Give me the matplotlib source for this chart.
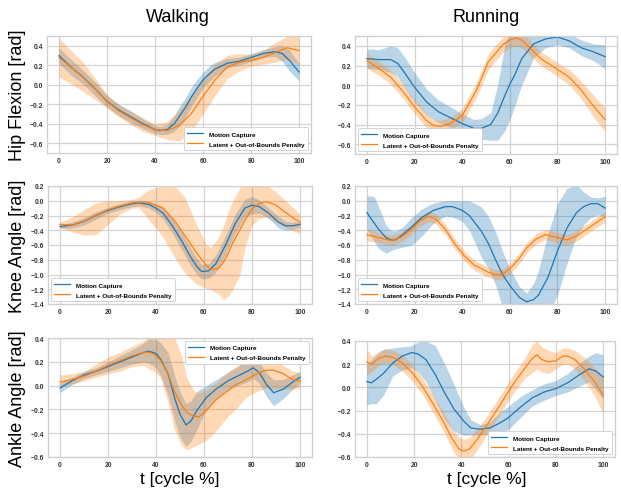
import matplotlib
matplotlib.use('Agg')
import matplotlib.pyplot as plt
import numpy as np

# ---------------- data ----------------
X_TICKS = [0, 20, 40, 60, 80, 100]
COL_TITLES = ['Walking', 'Running']
ROW_LABELS = ['Hip Flexion [rad]', 'Knee Angle [rad]', 'Ankle Angle [rad]']
X_LABEL = 't [cycle %]'
LABEL_MC = 'Motion Capture'
LABEL_LAT = 'Latent + Out-of-Bounds Penalty'

# Hip flexion, walking
HW_BX = [0, 5, 10, 15, 20, 25, 30, 35, 40, 42, 45, 48, 50, 53, 55, 58, 60, 63, 65, 70, 75, 80, 85, 90, 93, 96, 100]
HW_BY = [0.30, 0.18, 0.08, -0.04, -0.17, -0.26, -0.33, -0.40, -0.46, -0.47, -0.46, -0.40, -0.33, -0.22, -0.13, -0.02, 0.05, 0.12, 0.16, 0.22, 0.24, 0.28, 0.32, 0.34, 0.32, 0.25, 0.13]
HW_BSD = [0.08, 0.08, 0.07, 0.07, 0.06, 0.06, 0.06, 0.05, 0.04, 0.04, 0.05, 0.08, 0.10, 0.10, 0.10, 0.09, 0.08, 0.08, 0.07, 0.05, 0.04, 0.04, 0.04, 0.05, 0.08, 0.11, 0.09]
HW_OX = [0, 5, 10, 15, 20, 25, 30, 35, 40, 45, 50, 55, 60, 65, 70, 75, 80, 85, 90, 95, 100]
HW_OY = [0.28, 0.18, 0.08, -0.04, -0.17, -0.27, -0.34, -0.41, -0.46, -0.47, -0.42, -0.30, -0.12, 0.05, 0.18, 0.23, 0.25, 0.28, 0.33, 0.38, 0.35]
HW_OSD = [0.20, 0.17, 0.15, 0.11, 0.07, 0.06, 0.07, 0.07, 0.06, 0.09, 0.16, 0.18, 0.18, 0.16, 0.12, 0.09, 0.06, 0.07, 0.10, 0.12, 0.14]

# Hip flexion, running
HR_BX = [0, 5, 10, 13, 16, 20, 25, 30, 35, 40, 45, 48, 52, 55, 58, 60, 62, 65, 70, 75, 80, 85, 90, 95, 100]
HR_BY = [0.27, 0.26, 0.26, 0.22, 0.12, -0.02, -0.17, -0.27, -0.33, -0.39, -0.44, -0.44, -0.40, -0.28, -0.10, 0.01, 0.10, 0.27, 0.42, 0.47, 0.49, 0.45, 0.38, 0.34, 0.29]
HR_BLO = [0.17, 0.16, 0.13, 0.08, -0.03, -0.17, -0.30, -0.38, -0.43, -0.49, -0.53, -0.55, -0.56, -0.56, -0.46, -0.35, -0.22, 0.00, 0.28, 0.38, 0.41, 0.38, 0.30, 0.25, 0.17]
HR_BHI = [0.37, 0.36, 0.40, 0.38, 0.28, 0.13, -0.04, -0.15, -0.22, -0.29, -0.35, -0.34, -0.28, 0.02, 0.42, 0.55, 0.55, 0.55, 0.55, 0.55, 0.55, 0.52, 0.46, 0.42, 0.41]
HR_OX = [0, 5, 10, 15, 20, 25, 28, 31, 35, 40, 46, 51, 57, 60, 62.5, 65, 68, 73, 80, 85, 90, 95, 100]
HR_OY = [0.25, 0.17, 0.08, -0.06, -0.22, -0.36, -0.41, -0.42, -0.39, -0.31, -0.05, 0.24, 0.41, 0.46, 0.48, 0.46, 0.39, 0.27, 0.16, 0.08, -0.05, -0.21, -0.35]
HR_OSD = [0.08, 0.07, 0.07, 0.07, 0.07, 0.07, 0.06, 0.06, 0.06, 0.07, 0.08, 0.08, 0.08, 0.08, 0.08, 0.08, 0.08, 0.07, 0.07, 0.08, 0.09, 0.11, 0.12]

# Knee angle, walking
KW_BX = [0, 5, 10, 15, 20, 25, 30, 33, 37, 40, 43, 47, 51, 54, 57, 59, 62, 65, 69, 73, 77, 80, 83, 87, 91, 94, 97, 100]
KW_BY = [-0.35, -0.33, -0.28, -0.20, -0.13, -0.08, -0.04, -0.03, -0.05, -0.10, -0.17, -0.35, -0.56, -0.74, -0.89, -0.96, -0.95, -0.85, -0.60, -0.31, -0.10, -0.06, -0.08, -0.17, -0.29, -0.34, -0.34, -0.32]
KW_BSD = [0.03, 0.04, 0.05, 0.05, 0.04, 0.04, 0.04, 0.04, 0.05, 0.06, 0.08, 0.10, 0.12, 0.12, 0.11, 0.10, 0.10, 0.12, 0.13, 0.13, 0.12, 0.12, 0.09, 0.07, 0.08, 0.06, 0.05, 0.04]
KW_OX = [0, 5, 10, 15, 20, 25, 30, 33, 37, 40, 43, 48, 52, 57, 61, 63, 66, 68, 70, 72, 75, 77, 80, 83, 86, 90, 94, 98, 100]
KW_OY = [-0.32, -0.33, -0.28, -0.20, -0.12, -0.07, -0.03, -0.02, -0.03, -0.06, -0.10, -0.28, -0.47, -0.71, -0.88, -0.93, -0.92, -0.84, -0.72, -0.57, -0.39, -0.27, -0.11, -0.04, -0.01, -0.06, -0.16, -0.25, -0.29]
KW_OLO = [-0.36, -0.42, -0.47, -0.46, -0.32, -0.18, -0.10, -0.10, -0.26, -0.37, -0.50, -0.78, -0.98, -1.13, -1.19, -1.21, -1.26, -1.34, -1.30, -1.20, -1.00, -0.65, -0.33, -0.24, -0.22, -0.29, -0.36, -0.42, -0.44]
KW_OHI = [-0.29, -0.22, -0.12, -0.03, 0.00, 0.00, 0.02, 0.05, 0.15, 0.18, 0.19, 0.19, 0.05, -0.33, -0.60, -0.63, -0.50, -0.35, -0.15, 0.00, 0.18, 0.25, 0.25, 0.25, 0.22, 0.12, 0.00, -0.12, -0.19]

# Knee angle, running
KR_BX = [0, 3, 5, 8, 10, 12, 15, 19, 23, 28, 33, 36, 40, 43, 48, 51, 54, 57, 60, 64, 67, 70, 72, 76, 80, 84, 88, 91, 94, 97, 100]
KR_BY = [-0.16, -0.30, -0.39, -0.50, -0.53, -0.53, -0.46, -0.35, -0.23, -0.13, -0.08, -0.08, -0.13, -0.20, -0.41, -0.58, -0.80, -1.00, -1.15, -1.31, -1.37, -1.34, -1.28, -1.04, -0.68, -0.37, -0.16, -0.08, -0.04, -0.04, -0.10]
KR_BLO = [-0.38, -0.55, -0.65, -0.71, -0.68, -0.65, -0.63, -0.60, -0.48, -0.30, -0.21, -0.22, -0.28, -0.40, -0.76, -0.92, -1.14, -1.45, -1.55, -1.55, -1.55, -1.55, -1.60, -1.55, -1.28, -0.85, -0.48, -0.33, -0.23, -0.19, -0.21]
KR_BHI = [0.07, 0.06, -0.08, -0.33, -0.40, -0.41, -0.36, -0.22, -0.11, -0.03, 0.00, 0.00, 0.00, 0.00, -0.08, -0.21, -0.42, -0.69, -0.92, -1.16, -1.25, -1.12, -0.95, -0.45, -0.04, 0.17, 0.22, 0.12, 0.05, 0.04, 0.06]
KR_OX = [0, 5, 10, 14, 18, 22, 26, 29, 33, 37, 41, 45, 48, 51, 54, 57, 61, 64, 67, 71, 75, 80, 84, 88, 93, 97, 100]
KR_OY = [-0.46, -0.50, -0.54, -0.50, -0.41, -0.28, -0.21, -0.25, -0.39, -0.59, -0.75, -0.87, -0.92, -0.97, -1.00, -1.00, -0.89, -0.78, -0.64, -0.52, -0.46, -0.50, -0.53, -0.48, -0.37, -0.28, -0.22]
KR_OSD = [0.08, 0.07, 0.07, 0.07, 0.07, 0.07, 0.07, 0.07, 0.07, 0.07, 0.07, 0.07, 0.07, 0.07, 0.07, 0.07, 0.07, 0.07, 0.07, 0.07, 0.07, 0.07, 0.07, 0.07, 0.07, 0.07, 0.07]

# Ankle angle, walking
AW_BX = [0, 5, 10, 15, 20, 25, 30, 35, 37, 40, 42, 45, 48, 50, 52.5, 54.5, 57, 61, 65, 70, 74, 78, 80.5, 83, 86, 89, 93, 97, 100]
AW_BY = [-0.02, 0.04, 0.09, 0.12, 0.16, 0.20, 0.24, 0.28, 0.29, 0.27, 0.22, 0.10, -0.12, -0.24, -0.33, -0.30, -0.21, -0.10, -0.03, 0.04, 0.08, 0.12, 0.15, 0.11, 0.01, -0.06, -0.03, 0.03, 0.07]
AW_BSD = [0.04, 0.03, 0.03, 0.03, 0.04, 0.05, 0.06, 0.08, 0.10, 0.12, 0.14, 0.18, 0.19, 0.19, 0.18, 0.17, 0.16, 0.10, 0.08, 0.07, 0.08, 0.09, 0.09, 0.09, 0.10, 0.11, 0.08, 0.06, 0.05]
AW_OX = [0, 5, 10, 15, 20, 25, 30, 35, 37, 39.5, 42, 45, 47.5, 50.5, 53, 56, 58, 61, 65, 69.5, 73.5, 77.5, 82, 86, 89, 93, 97, 100]
AW_OY = [0.03, 0.05, 0.08, 0.12, 0.17, 0.21, 0.25, 0.28, 0.28, 0.26, 0.21, 0.10, -0.04, -0.16, -0.23, -0.26, -0.26, -0.21, -0.12, -0.05, 0.01, 0.05, 0.10, 0.13, 0.13, 0.10, 0.05, 0.04]
AW_OLO = [0.00, 0.01, 0.04, 0.07, 0.10, 0.12, 0.16, 0.17, 0.14, 0.12, 0.06, -0.14, -0.36, -0.50, -0.54, -0.51, -0.49, -0.46, -0.38, -0.27, -0.19, -0.10, -0.05, -0.02, -0.03, -0.03, -0.03, -0.02]
AW_OHI = [0.09, 0.10, 0.12, 0.18, 0.24, 0.28, 0.33, 0.38, 0.41, 0.42, 0.43, 0.44, 0.42, 0.26, 0.06, -0.05, -0.06, -0.04, 0.02, 0.11, 0.16, 0.21, 0.26, 0.25, 0.22, 0.17, 0.12, 0.11]

# Ankle angle, running
AR_BX = [0, 2, 4, 7, 11, 15, 19, 21.5, 25, 29, 33, 37, 41, 44, 48, 52, 56, 60, 65, 70, 75, 80, 85, 90, 94, 97, 100]
AR_BY = [0.05, 0.04, 0.07, 0.12, 0.21, 0.27, 0.30, 0.29, 0.24, 0.11, -0.05, -0.19, -0.29, -0.35, -0.36, -0.35, -0.31, -0.26, -0.17, -0.09, -0.04, -0.01, 0.04, 0.11, 0.16, 0.14, 0.09]
AR_BLO = [-0.15, -0.14, -0.14, -0.07, 0.10, 0.15, 0.17, 0.14, 0.05, -0.11, -0.28, -0.38, -0.41, -0.41, -0.41, -0.40, -0.40, -0.36, -0.26, -0.16, -0.11, -0.07, -0.04, 0.01, 0.05, -0.02, -0.10]
AR_BHI = [0.20, 0.24, 0.28, 0.33, 0.34, 0.35, 0.36, 0.39, 0.40, 0.36, 0.20, 0.02, -0.17, -0.28, -0.32, -0.30, -0.22, -0.16, -0.08, -0.02, 0.03, 0.06, 0.12, 0.21, 0.27, 0.30, 0.28]
AR_OX = [0, 2, 5, 8, 11, 15, 19.5, 23.5, 28, 32, 36, 39, 41, 43.5, 47, 51, 57, 62, 67, 70, 72, 74, 77, 80, 83, 85, 88, 92, 96, 100]
AR_OY = [0.22, 0.20, 0.25, 0.27, 0.26, 0.21, 0.12, 0.01, -0.14, -0.28, -0.44, -0.53, -0.55, -0.53, -0.44, -0.32, -0.13, 0.03, 0.17, 0.25, 0.28, 0.24, 0.22, 0.23, 0.27, 0.27, 0.24, 0.16, 0.06, -0.07]
AR_OSD = [0.11, 0.07, 0.06, 0.06, 0.06, 0.07, 0.07, 0.07, 0.08, 0.08, 0.09, 0.10, 0.10, 0.10, 0.09, 0.08, 0.08, 0.08, 0.09, 0.12, 0.12, 0.11, 0.10, 0.07, 0.07, 0.07, 0.08, 0.10, 0.12, 0.15]

# ---------------- style ----------------
BLUE = '#1f77b4'
ORANGE = '#ff7f0e'
BIG_FONT = ['Liberation Sans Narrow', 'Liberation Sans', 'DejaVu Sans']
SMALL_FONT = ['Liberation Sans', 'DejaVu Sans']
W, H = 621, 489

fig = plt.figure(figsize=(W / 100, H / 100), dpi=100)
fig.patch.set_facecolor('white')


def add_ax(l, t, r, b):
    return fig.add_axes([l / W, 1 - b / H, (r - l) / W, (b - t) / H])


def band(y, sd=None, lo=None, hi=None):
    y = np.asarray(y, float)
    if sd is not None:
        sd = np.asarray(sd, float)
        return y - sd, y + sd
    return np.asarray(lo, float), np.asarray(hi, float)


def style(ax, ylim, yticks):
    ax.set_facecolor('white')
    ax.set_xlim(-5, 105)
    ax.set_ylim(*ylim)
    ax.set_xticks(X_TICKS)
    ax.set_yticks(yticks)
    ax.set_yticklabels([f'{v:.1f}'.replace('-', '\u2212') for v in yticks])
    ax.grid(True, color='#d4d4d4', lw=0.9)
    ax.set_axisbelow(True)
    for s in ax.spines.values():
        s.set_color('#cfcfcf')
        s.set_linewidth(0.9)
    ax.tick_params(length=0, pad=3, labelsize=4.9, labelcolor='#333333')
    for lab in ax.get_xticklabels() + ax.get_yticklabels():
        lab.set_fontweight('bold')
        lab.set_family(SMALL_FONT)


panels = [
    # (rect, blue series, orange series, ylim, yticks, legend loc)
    ((47, 37, 311, 154), (HW_BX, HW_BY, band(HW_BY, sd=HW_BSD)), (HW_OX, HW_OY, band(HW_OY, sd=HW_OSD)),
     (-0.7, 0.5), [-0.6, -0.4, -0.2, 0.0, 0.2, 0.4], 'lower right'),
    ((355, 37, 617, 155), (HR_BX, HR_BY, band(HR_BY, lo=HR_BLO, hi=HR_BHI)), (HR_OX, HR_OY, band(HR_OY, sd=HR_OSD)),
     (-0.7, 0.5), [-0.6, -0.4, -0.2, 0.0, 0.2, 0.4], 'lower left'),
    ((48, 187, 312, 305), (KW_BX, KW_BY, band(KW_BY, sd=KW_BSD)), (KW_OX, KW_OY, band(KW_OY, lo=KW_OLO, hi=KW_OHI)),
     (-1.4, 0.2), [-1.4, -1.2, -1.0, -0.8, -0.6, -0.4, -0.2, 0.0, 0.2], 'lower left'),
    ((355, 187, 617, 305), (KR_BX, KR_BY, band(KR_BY, lo=KR_BLO, hi=KR_BHI)), (KR_OX, KR_OY, band(KR_OY, sd=KR_OSD)),
     (-1.4, 0.2), [-1.4, -1.2, -1.0, -0.8, -0.6, -0.4, -0.2, 0.0, 0.2], 'lower left'),
    ((48, 339, 312, 458), (AW_BX, AW_BY, band(AW_BY, sd=AW_BSD)), (AW_OX, AW_OY, band(AW_OY, lo=AW_OLO, hi=AW_OHI)),
     (-0.6, 0.4), [-0.6, -0.4, -0.2, 0.0, 0.2, 0.4], 'upper right'),
    ((355, 342, 615, 458), (AR_BX, AR_BY, band(AR_BY, lo=AR_BLO, hi=AR_BHI)), (AR_OX, AR_OY, band(AR_OY, sd=AR_OSD)),
     (-0.6, 0.4), [-0.6, -0.4, -0.2, 0.0, 0.2, 0.4], 'lower right'),
]

for rect, (bx, by, (blo, bhi)), (ox, oy, (olo, ohi)), ylim, yticks, loc in panels:
    ax = add_ax(*rect)
    ax.fill_between(bx, blo, bhi, color=BLUE, alpha=0.3, lw=0)
    ax.fill_between(ox, olo, ohi, color=ORANGE, alpha=0.3, lw=0)
    ax.plot(bx, by, color=BLUE, lw=0.9, label=LABEL_MC)
    ax.plot(ox, oy, color=ORANGE, lw=0.9, label=LABEL_LAT)
    style(ax, ylim, yticks)
    leg = ax.legend(loc=loc, prop={'family': SMALL_FONT, 'weight': 'bold', 'size': 4.6},
                    frameon=True, framealpha=1.0, edgecolor='#cccccc', fancybox=True,
                    handlelength=2.5, borderpad=0.6, labelspacing=0.7, handletextpad=0.9,
                    borderaxespad=0.4)
    leg.get_frame().set_linewidth(0.6)

# Column titles, row labels, x labels
fig.text(178 / W, 1 - 18 / H, COL_TITLES[0], ha='center', va='center', fontsize=13, family=BIG_FONT)
fig.text(486 / W, 1 - 18 / H, COL_TITLES[1], ha='center', va='center', fontsize=13, family=BIG_FONT)
for yc, lab in zip([95, 246, 399], ROW_LABELS):
    fig.text(18 / W, 1 - yc / H, lab, ha='center', va='center', rotation=90, fontsize=13, family=BIG_FONT)
fig.text(180 / W, 1 - 487 / H, X_LABEL, ha='center', va='bottom', fontsize=12.5, family=BIG_FONT)
fig.text(487 / W, 1 - 487 / H, X_LABEL, ha='center', va='bottom', fontsize=12.5, family=BIG_FONT)

fig.savefig('out.png', dpi=100, facecolor='white')
